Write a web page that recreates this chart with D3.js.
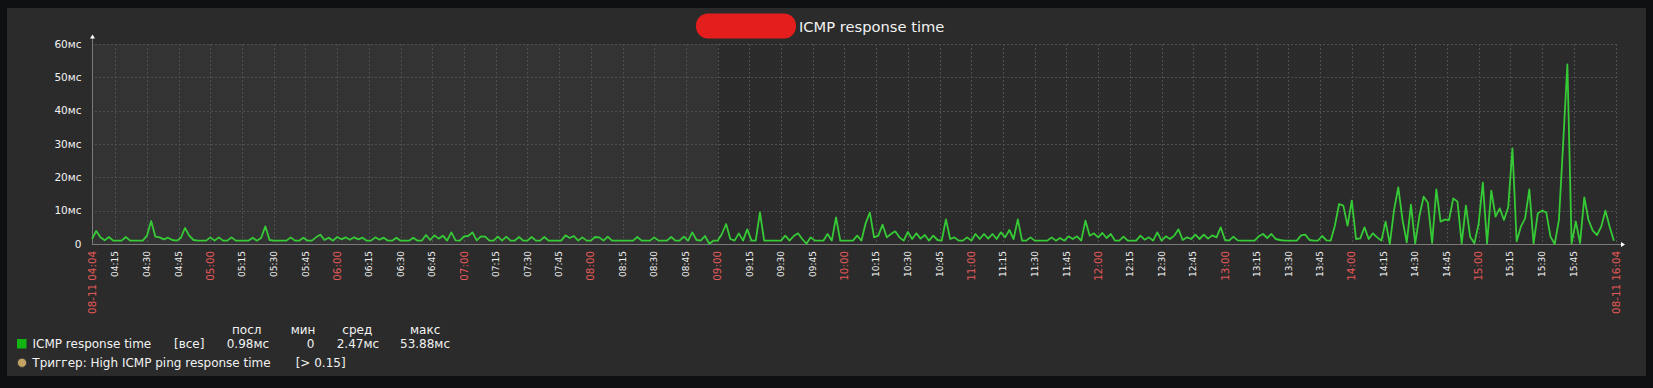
<!DOCTYPE html>
<html>
<head>
<meta charset="utf-8">
<script src="https://cdn.jsdelivr.net/npm/d3@7/dist/d3.min.js"></script>
<style>
    html, body { margin: 0; padding: 0; background: #0e1012; }
    svg { display: block; font-family: "DejaVu Sans", sans-serif; }
</style>
</head>
<body>
<svg id="chart" width="1653" height="388"></svg>
<script>
// Data.
const START = new Date(2024, 7, 11, 4, 4);
const END = new Date(2024, 7, 11, 16, 5);
const LAST_TICK = new Date(2024, 7, 11, 16, 0);
const WORK_START = new Date(2024, 7, 11, 9, 0);
const STEP_MIN = 2;
const startLabel = '08-11 04:04';
const endLabel = '08-11 16:04';
const title = 'ICMP response time';
const yTicks = [0, 10, 20, 30, 40, 50, 60];

// ICMP response time, ms, one value every 2 minutes from 04:04.
const ping = [
    1.5, 3.9, 2.0, 1.1, 2.1, 1.0, 1.0, 1.0, 2.1, 1.0, 1.0, 1.0, 1.0, 2.5, 6.9, 2.2, 2.0, 1.4, 1.9, 1.2, 1.0, 1.8, 4.8, 2.5, 1.2, 1.0, 1.0, 1.0, 2.0, 1.0,
    2.0, 1.0, 1.0, 2.0, 1.0, 1.0, 1.0, 1.0, 1.9, 1.0, 1.8, 5.3, 1.2, 1.0, 1.0, 1.0, 1.0, 2.0, 1.0, 1.0, 1.9, 1.0, 1.0, 2.0, 2.8, 1.2, 1.9, 1.0, 2.1, 1.4,
    2.0, 1.3, 2.0, 1.4, 1.9, 1.0, 1.0, 2.0, 1.3, 1.9, 1.0, 1.0, 1.9, 1.0, 1.0, 1.0, 1.9, 1.0, 1.0, 2.7, 1.2, 2.6, 1.6, 2.5, 1.0, 3.5, 1.1, 1.0, 2.3, 2.4,
    3.5, 1.1, 2.3, 2.2, 1.0, 1.0, 2.2, 1.0, 2.2, 1.0, 1.0, 2.1, 1.0, 1.0, 2.1, 1.0, 1.0, 2.1, 1.0, 1.0, 1.0, 1.0, 2.6, 1.8, 2.4, 1.0, 2.0, 1.0, 1.0, 2.1,
    2.0, 1.0, 2.2, 1.0, 1.0, 1.0, 1.0, 1.0, 1.0, 2.1, 1.0, 1.0, 1.0, 2.0, 1.0, 1.0, 1.0, 2.1, 1.0, 1.0, 2.2, 1.0, 3.5, 1.2, 1.0, 2.4, 0.1, 1.0, 1.0, 3.0,
    6.0, 1.5, 1.0, 3.2, 1.0, 4.4, 1.0, 1.0, 9.5, 1.0, 1.0, 1.0, 1.0, 1.0, 2.5, 1.0, 2.4, 3.2, 1.5, 0.1, 2.0, 1.0, 1.0, 1.0, 3.0, 1.0, 8.0, 1.0, 1.0, 1.0,
    1.0, 2.5, 1.0, 6.2, 9.4, 2.0, 2.5, 5.8, 2.0, 3.0, 3.8, 2.0, 1.0, 3.6, 1.5, 3.2, 1.6, 2.7, 1.0, 2.5, 1.2, 1.0, 7.4, 1.5, 2.0, 1.0, 1.0, 2.0, 1.0, 3.0,
    1.5, 3.0, 1.6, 3.0, 1.5, 3.5, 2.0, 4.2, 1.5, 7.4, 1.0, 1.0, 2.0, 1.0, 1.0, 1.0, 1.0, 2.0, 1.0, 1.8, 1.0, 2.3, 1.5, 2.3, 1.0, 7.0, 2.5, 3.2, 2.0, 3.3,
    1.8, 3.0, 1.0, 1.0, 2.2, 1.0, 1.0, 1.0, 2.5, 1.3, 2.0, 1.0, 3.5, 1.0, 2.3, 1.5, 2.5, 4.4, 1.2, 2.0, 1.5, 2.8, 1.5, 2.8, 1.6, 2.6, 2.0, 5.0, 1.2, 1.0,
    2.2, 1.1, 1.0, 1.0, 1.0, 1.0, 2.3, 3.0, 1.8, 3.0, 1.5, 1.2, 1.0, 1.0, 1.0, 1.0, 2.6, 2.8, 1.2, 1.0, 1.0, 2.4, 1.1, 1.0, 5.5, 12.0, 11.5, 5.5, 13.0, 1.5,
    1.7, 5.0, 1.5, 3.2, 2.0, 1.0, 6.7, 0, 10.2, 17.0, 7.3, 0.5, 11.8, 0.2, 8.4, 14.2, 12.4, 0.3, 16.4, 6.7, 7.3, 7.2, 13.7, 12.7, 0.2, 11.5, 2.2, 0.2, 6.0, 18.4,
    0.2, 16.0, 8.2, 10.7, 7.2, 11.0, 28.7, 0.8, 5.2, 7.7, 16.4, 0.2, 9.2, 10.0, 9.5, 2.2, 0, 7.2, 30.2, 53.88, 0.2, 6.7, 0.3, 14.0, 7.2, 4.0, 2.7, 5.2, 10.0, 5.2,
    0.98
];

// Legend.
const legendHead = ['посл', 'мин', 'сред', 'макс'];
const legendItem = 'ICMP response time';
const legendFunc = '[все]';
const legendStats = ['0.98мс', '0', '2.47мс', '53.88мс'];
const triggerText = 'Триггер: High ICMP ping response time';
const triggerCond = '[> 0.15]';

// Layout.
const PANEL = {x: 7, y: 8, w: 1639, h: 368};
const X0 = 92, X1 = 1616;
const Y0 = 244, Y1 = 44;
const COLORS = {
    panel: '#2b2b2b',
    nonwork: '#333333',
    grid: '#505050',
    axis: '#7a7a7a',
    text: '#f2f2f2',
    highlight: '#e45959',
    line: '#36ca36',
    square: '#12b512',
    trigger: '#c4a262'
};

const svg = d3.select('#chart');

svg.append('rect')
    .attr('x', PANEL.x).attr('y', PANEL.y)
    .attr('width', PANEL.w).attr('height', PANEL.h)
    .attr('fill', COLORS.panel);

const x = d3.scaleTime().domain([START, END]).range([X0, X1]);
const y = d3.scaleLinear().domain([0, 60]).range([Y0, Y1]);

// Non-work period.
svg.append('rect')
    .attr('x', x(START)).attr('y', y(60))
    .attr('width', x(WORK_START) - x(START))
    .attr('height', y(0) - y(60))
    .attr('fill', COLORS.nonwork);

// Grid.
const ticks = d3.timeMinute.every(15).range(START, LAST_TICK);
const grid = svg.append('g')
    .attr('stroke', COLORS.grid)
    .attr('stroke-dasharray', '2,2')
    .attr('shape-rendering', 'crispEdges');
grid.selectAll('line.v')
    .data(ticks.concat([END]))
    .join('line')
    .attr('class', 'v')
    .attr('x1', d => Math.round(x(d)) + 0.5).attr('x2', d => Math.round(x(d)) + 0.5)
    .attr('y1', y(60)).attr('y2', y(0));
grid.selectAll('line.h')
    .data(yTicks.filter(d => d > 0))
    .join('line')
    .attr('class', 'h')
    .attr('x1', X0 + 3).attr('x2', X1)
    .attr('y1', d => Math.round(y(d)) + 0.5).attr('y2', d => Math.round(y(d)) + 0.5);

// Axes.
svg.append('line')
    .attr('x1', X0 + 0.5).attr('x2', X0 + 0.5)
    .attr('y1', 37).attr('y2', Y0 + 1)
    .attr('stroke', COLORS.axis);
svg.append('line')
    .attr('x1', X0).attr('x2', X1 + 5)
    .attr('y1', Y0 + 0.5).attr('y2', Y0 + 0.5)
    .attr('stroke', COLORS.axis);
svg.append('path')
    .attr('d', `M${X0 + 0.5},34.5 L${X0 + 3},38.5 L${X0 - 2},38.5 Z`)
    .attr('fill', '#ffffff');
svg.append('path')
    .attr('d', `M${X1 + 9},${Y0 + 0.5} L${X1 + 5},${Y0 - 2} L${X1 + 5},${Y0 + 3} Z`)
    .attr('fill', '#ffffff');

// Y labels.
svg.append('g')
    .selectAll('text')
    .data(yTicks)
    .join('text')
    .attr('x', 81.5)
    .attr('y', d => y(d))
    .attr('dy', '0.35em')
    .attr('text-anchor', 'end')
    .attr('font-size', '10.5px')
    .attr('fill', COLORS.text)
    .text(d => d === 0 ? '0' : `${d}мс`);

// X labels.
const fmt = d3.timeFormat('%H:%M');
const xLabels = ticks.map(t => ({t, text: fmt(t), main: t.getMinutes() === 0}))
    .concat([{t: START, text: startLabel, main: true}, {t: END, text: endLabel, main: true}]);
svg.append('g')
    .selectAll('text')
    .data(xLabels)
    .join('text')
    .attr('transform', d => `translate(${x(d.t)},251) rotate(-90)`)
    .attr('dy', '0.35em')
    .attr('text-anchor', 'end')
    .attr('font-size', d => d.main ? '10.3px' : '9px')
    .attr('fill', d => d.main ? COLORS.highlight : COLORS.text)
    .text(d => d.text);

// Series.
const line = d3.line()
    .x((d, i) => x(d3.timeMinute.offset(START, i * STEP_MIN)))
    .y(d => y(d));
svg.append('path')
    .datum(ping)
    .attr('d', line)
    .attr('fill', 'none')
    .attr('stroke', COLORS.line)
    .attr('stroke-width', 1.8)
    .attr('stroke-linejoin', 'round');

// Title.
svg.append('rect')
    .attr('x', 696).attr('y', 13.5)
    .attr('width', 100).attr('height', 25)
    .attr('rx', 12)
    .attr('fill', '#e41d1d');
svg.append('text')
    .attr('x', 799).attr('y', 32)
    .attr('font-size', '14.7px')
    .attr('fill', COLORS.text)
    .text(title);

// Legend.
const legend = svg.append('g')
    .attr('font-size', '12px')
    .attr('fill', COLORS.text);
const headX = [232, 290.7, 342.3, 410];
const statX = [226.7, 306.7, 336.7, 400];
legend.selectAll('text.head')
    .data(legendHead)
    .join('text')
    .attr('class', 'head')
    .attr('x', (d, i) => headX[i]).attr('y', 334)
    .text(d => d);
legend.append('rect')
    .attr('x', 17).attr('y', 339)
    .attr('width', 9.5).attr('height', 9.5)
    .attr('fill', COLORS.square);
legend.append('text').attr('x', 32.5).attr('y', 347.5).text(legendItem);
legend.append('text').attr('x', 174).attr('y', 347.5).text(legendFunc);
legend.selectAll('text.stat')
    .data(legendStats)
    .join('text')
    .attr('class', 'stat')
    .attr('x', (d, i) => statX[i]).attr('y', 347.5)
    .text(d => d);
legend.append('circle')
    .attr('cx', 22).attr('cy', 362.8).attr('r', 4.6)
    .attr('fill', COLORS.trigger)
    .attr('stroke', '#3a3a3a');
legend.append('text').attr('x', 32.3).attr('y', 366.5).text(triggerText);
legend.append('text').attr('x', 295.7).attr('y', 366.5).text(triggerCond);
</script>
</body>
</html>
